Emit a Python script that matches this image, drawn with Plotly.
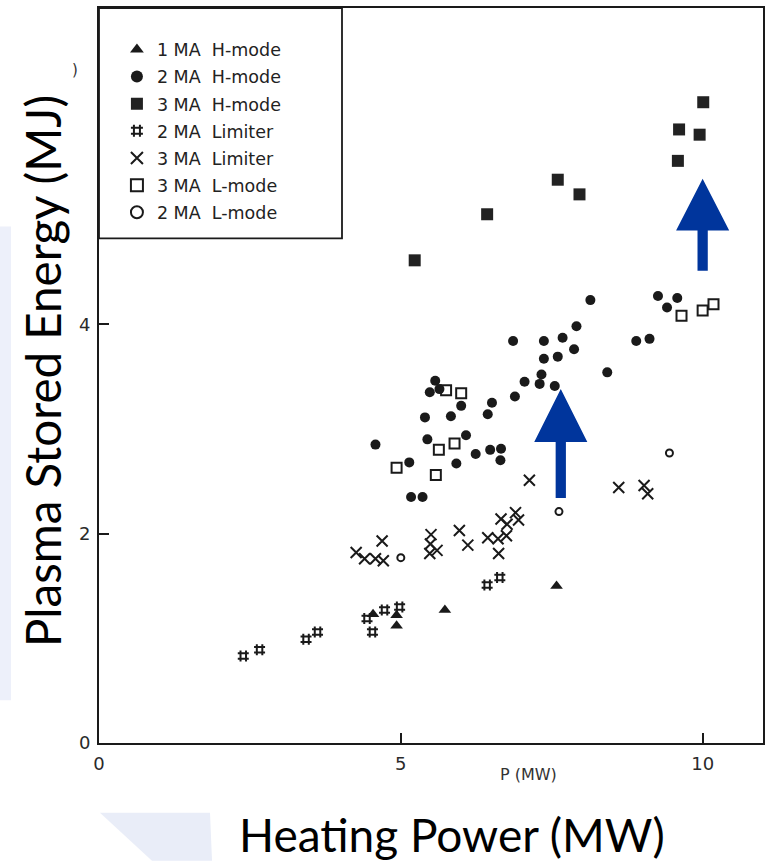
import plotly.graph_objects as go

# ---------------- data (P in MW, W in MJ) ----------------
h1_x = [4.54, 4.93, 4.93, 5.73, 7.58]
h1_y = [1.23, 1.22, 1.12, 1.27, 1.50]

h2_x = [8.14, 9.26, 9.58, 9.41, 6.86, 7.37, 7.68, 7.91, 7.87, 7.37, 7.60, 8.90, 9.12,
        8.42, 7.33, 7.05, 7.30, 7.55, 6.89, 6.51, 6.44, 5.57, 5.48, 5.64, 6.00, 5.40,
        5.83, 5.44, 6.08, 4.58, 6.24, 6.48, 6.66, 6.65, 5.92, 5.14, 5.17, 5.36]
h2_y = [4.23, 4.27, 4.25, 4.16, 3.84, 3.84, 3.87, 3.98, 3.76, 3.67, 3.69, 3.84, 3.86,
        3.54, 3.52, 3.45, 3.43, 3.41, 3.31, 3.25, 3.14, 3.46, 3.35, 3.38, 3.22, 3.11,
        3.12, 2.90, 2.94, 2.85, 2.76, 2.80, 2.81, 2.70, 2.67, 2.68, 2.35, 2.35]

h3_x = [5.23, 6.43, 7.60, 7.96, 9.59, 9.61, 9.95, 10.01]
h3_y = [4.61, 5.05, 5.38, 5.24, 5.56, 5.86, 5.81, 6.12]

lim2_x = [2.39, 2.66, 3.43, 3.62, 4.44, 4.53, 4.73, 4.98, 6.43, 6.64]
lim2_y = [0.83, 0.89, 0.99, 1.06, 1.19, 1.06, 1.27, 1.30, 1.51, 1.58]

lim3_x = [4.26, 4.40, 4.58, 4.69, 4.71, 5.50, 5.49, 5.60, 5.48, 5.97, 6.11, 6.44,
          6.61, 6.62, 6.75, 6.66, 6.76, 6.90, 6.95, 7.13, 8.61, 9.03, 9.09]
lim3_y = [1.82, 1.76, 1.76, 1.93, 1.74, 1.99, 1.90, 1.84, 1.81, 2.03, 1.89, 1.96,
          1.95, 1.81, 1.98, 2.14, 2.09, 2.20, 2.13, 2.51, 2.44, 2.46, 2.38]

l3_x = [5.75, 6.00, 5.63, 5.89, 4.93, 5.58, 9.65, 10.00, 10.18]
l3_y = [3.37, 3.34, 2.80, 2.86, 2.63, 2.56, 4.08, 4.13, 4.19]

l2_x = [5.00, 7.62, 9.45]
l2_y = [1.77, 2.21, 2.77]

x_ticks = [0, 5, 10]
y_ticks = [0, 2, 4]

INK = "#1a1a1a"
BLUE = "#00359c"

fig = go.Figure()

def add(name, xs, ys, symbol, size, lw=0, fill=INK):
    fig.add_trace(go.Scatter(
        x=xs, y=ys, mode="markers", name=name, legendgroup=name,
        marker=dict(symbol=symbol, size=size, color=fill,
                    line=dict(color=INK, width=lw)),
    ))

add("1 MA  H-mode", h1_x, h1_y, "triangle-up", 11)
add("2 MA  H-mode", h2_x, h2_y, "circle", 10)
add("3 MA  H-mode", h3_x, h3_y, "square", 12, fill="#222222")
add("2 MA  Limiter", lim2_x, lim2_y, "hash-open", 11, lw=2)
add("3 MA  Limiter", lim3_x, lim3_y, "x-thin-open", 11, lw=2)
add("3 MA  L-mode", l3_x, l3_y, "square-open", 10, lw=2)
add("2 MA  L-mode", l2_x, l2_y, "circle-open", 7, lw=2)

# plot area in pixels
L, R, T, B = 99, 763, 6, 743
W, H = 774, 861
def px(x):
    return (x - L) / (R - L)
def py(y):
    return (B - y) / (B - T)

shapes = []
# legend box
shapes.append(dict(type="rect", xref="paper", yref="paper",
                   x0=0, x1=px(342), y0=py(237), y1=1,
                   line=dict(color=INK, width=1.8), fillcolor="rgba(0,0,0,0)", layer="above"))

# faint slide decorations
def ppath(pts):
    return "M " + " L ".join(f"{px(a):.4f},{py(b):.4f}" for a, b in pts) + " Z"
shapes.append(dict(type="path", xref="paper", yref="paper",
                   path=ppath([(0, 225), (11, 225), (11, 700), (0, 700)]),
                   fillcolor="#edf0fa", line=dict(width=0), layer="below"))
shapes.append(dict(type="path", xref="paper", yref="paper",
                   path=ppath([(100, 813), (210, 813), (212, 861), (152, 861)]),
                   fillcolor="#e9edf8", line=dict(width=0), layer="below"))

# blue arrows (data coords)
def arrow(xc, y_tip, y_base, y_bot, head_hw=0.44, shaft_hw=0.085):
    pts = [(xc, y_tip), (xc + head_hw, y_base), (xc + shaft_hw, y_base),
           (xc + shaft_hw, y_bot), (xc - shaft_hw, y_bot), (xc - shaft_hw, y_base),
           (xc - head_hw, y_base)]
    return dict(type="path", xref="x", yref="y",
                path="M " + " L ".join(f"{a:.3f},{b:.3f}" for a, b in pts) + " Z",
                fillcolor=BLUE, line=dict(width=0), layer="above")
shapes.append(arrow(7.65, 3.38, 2.875, 2.34))
shapes.append(arrow(10.0, 5.39, 4.895, 4.51))

annotations = [
    dict(text="Heating Power (MW)", xref="paper", yref="paper",
         x=px(452), y=py(835), xanchor="center", yanchor="middle", showarrow=False,
         font=dict(family="Lato, Open Sans, sans-serif", size=46, color="#000")),
    dict(text="Plasma Stored Energy (MJ)", xref="paper", yref="paper",
         x=px(42), y=py(370), xanchor="center", yanchor="middle", showarrow=False,
         textangle=-90,
         font=dict(family="Lato, Open Sans, sans-serif", size=47.5, color="#000")),
    dict(text="P (MW)", xref="paper", yref="paper",
         x=px(528), y=py(775), xanchor="center", yanchor="middle", showarrow=False,
         font=dict(family="DejaVu Sans, sans-serif", size=16, color="#333")),
    dict(text=")", xref="paper", yref="paper",
         x=px(75), y=py(68), xanchor="center", yanchor="middle", showarrow=False,
         font=dict(family="DejaVu Sans, sans-serif", size=15, color="#333")),
]

axis_common = dict(showline=True, linecolor=INK, linewidth=2, mirror=True,
                   ticks="inside", ticklen=10, tickwidth=1.5, tickcolor=INK,
                   showgrid=False, zeroline=False,
                   tickfont=dict(family="DejaVu Sans, sans-serif", size=18, color="#2a2a2a"))

fig.update_layout(
    width=W, height=H,
    margin=dict(l=L, r=W - R, t=T, b=H - B),
    paper_bgcolor="white", plot_bgcolor="white",
    xaxis=dict(range=[0, 11], tickvals=x_ticks, ticklabelstandoff=3, **axis_common),
    yaxis=dict(range=[0, 7.02], tickvals=y_ticks, ticklabelstandoff=3, **axis_common),
    showlegend=True,
    legend=dict(x=0.027, y=0.968, xanchor="left", yanchor="top",
                bgcolor="rgba(0,0,0,0)", borderwidth=0,
                traceorder="grouped", tracegroupgap=1.4,
                font=dict(family="DejaVu Sans, sans-serif", size=17.5, color="#222"),
                itemsizing="constant"),
    shapes=shapes,
    annotations=annotations,
)

fig.write_html("out.html", config={"displayModeBar": False},
               post_script="document.body.style.margin='0';document.body.style.padding='0';")
